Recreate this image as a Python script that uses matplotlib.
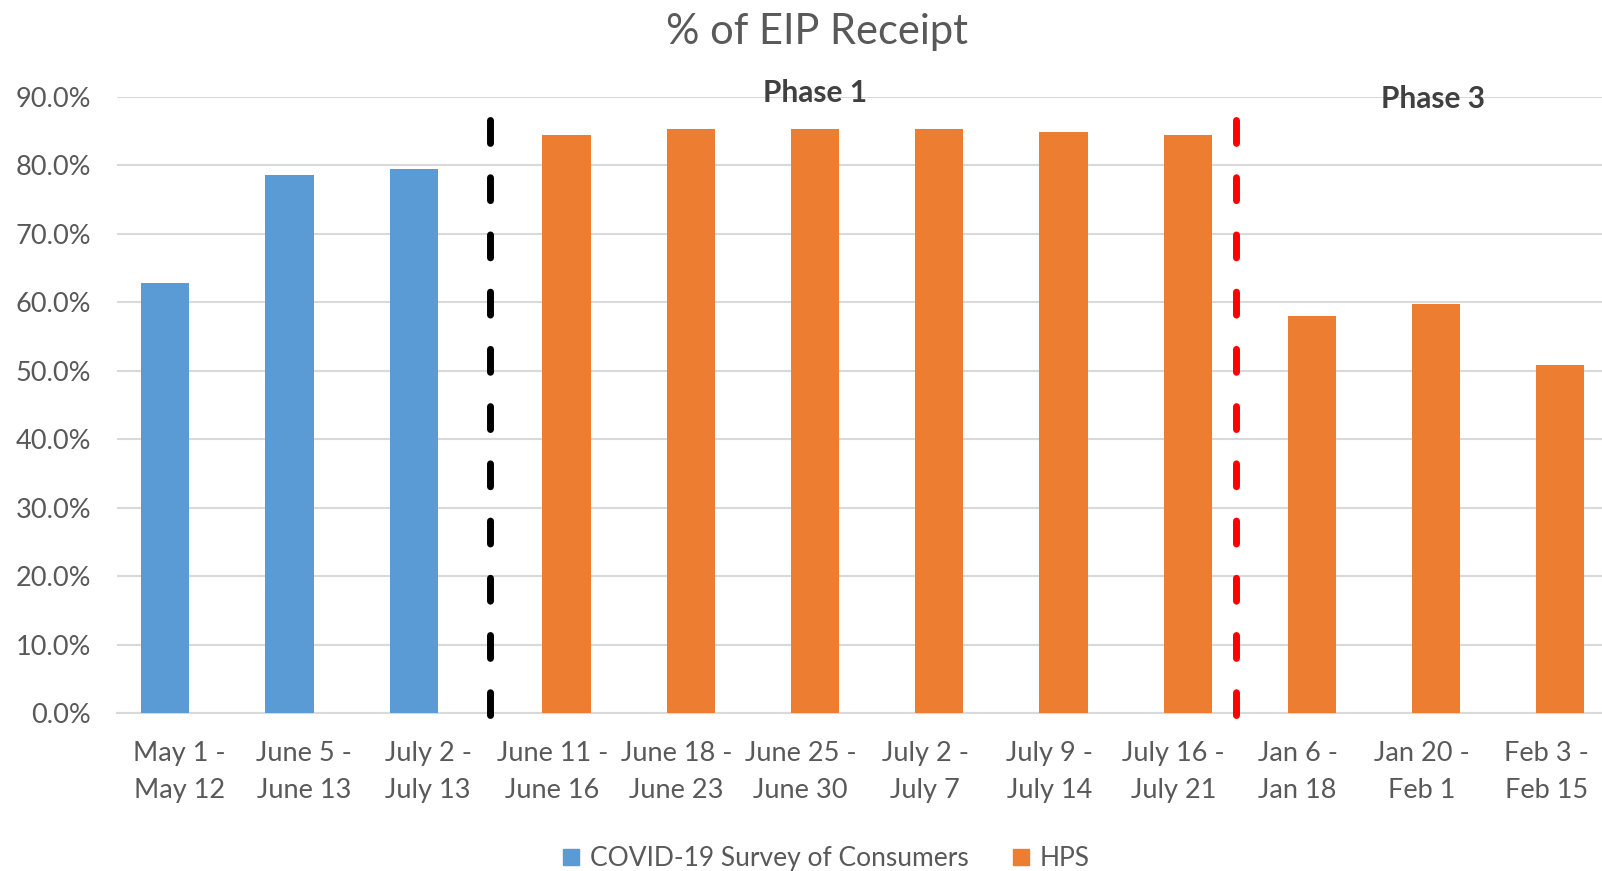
import numpy as np
import matplotlib
matplotlib.use("Agg")
import matplotlib.pyplot as plt
from matplotlib.patches import Patch
from matplotlib.ticker import FuncFormatter

plt.rcParams["font.family"] = ["Lato", "DejaVu Sans"]
plt.rcParams["lines.scale_dashes"] = False

# ── Data ──────────────────────────────────────────────────────────────────────
periods = ["May 1 -\nMay 12", "June 5 -\nJune 13", "July 2 -\nJuly 13",
           "June 11 -\nJune 16", "June 18 -\nJune 23", "June 25 -\nJune 30",
           "July 2 -\nJuly 7", "July 9 -\nJuly 14", "July 16 -\nJuly 21",
           "Jan 6 -\nJan 18", "Jan 20 -\nFeb 1", "Feb 3 -\nFeb 15"]
covid_survey = [62.8, 78.6, 79.5, None, None, None, None, None, None, None, None, None]
hps = [None, None, None, 84.5, 85.4, 85.4, 85.4, 84.9, 84.5, 58.0, 59.8, 50.9]
series_names = ["COVID-19 Survey of Consumers", "HPS"]
phase_labels = ["Phase 1", "Phase 3"]

BLUE = "#5B9BD5"
ORANGE = "#ED7D31"
GRAY = "#595959"
GRID = "#D9D9D9"

fig = plt.figure(figsize=(16.02, 8.71), dpi=100)
ax = fig.add_axes([0.0733, 0.1814, 0.9306, 0.7072])

x = np.arange(len(periods))
w = 0.387
off = 0.115
for xi, v in zip(x, covid_survey):
    if v is not None:
        ax.bar(xi - off, v, width=w, color=BLUE, zorder=3)
for xi, v in zip(x, hps):
    if v is not None:
        ax.bar(xi + off, v, width=w, color=ORANGE, zorder=3)

# phase separators
for xv, col in [(2.5, "black"), (8.5, "red")]:
    ax.plot([xv, xv], [86.7, -0.3], color=col, lw=5, solid_capstyle="round",
            dash_capstyle="round", dashes=(16.5, 24.7), zorder=4, clip_on=False)

ax.text(5.115, 90.6, phase_labels[0], ha="center", va="center", fontsize=21.5,
        fontweight="bold", color="#404040", zorder=5)
ax.text(10.09, 89.7, phase_labels[1], ha="center", va="center", fontsize=21.5,
        fontweight="bold", color="#404040", zorder=5)

ax.set_xlim(-0.5, 11.5)
ax.set_ylim(0, 90)
ax.set_yticks(np.arange(0, 91, 10))
ax.yaxis.set_major_formatter(FuncFormatter(lambda v, p: f"{v:.1f}%"))
ax.set_xticks(x)
ax.set_xticklabels(periods, linespacing=1.62)
ax.tick_params(axis="both", length=0, labelsize=19.5, labelcolor=GRAY)
ax.tick_params(axis="x", pad=20)
ax.tick_params(axis="y", pad=19)
ax.grid(axis="y", color=GRID, lw=1.5, zorder=0)
for s in ["top", "right", "left"]:
    ax.spines[s].set_visible(False)
ax.spines["bottom"].set_color(GRID)
ax.spines["bottom"].set_linewidth(1.5)

fig.text(0.51, 0.963, "% of EIP Receipt", ha="center", va="center",
         fontsize=30, color=GRAY)

handles = [Patch(color=BLUE), Patch(color=ORANGE)]
fig.legend(handles, series_names, loc="center", bbox_to_anchor=(0.516, 0.014),
           ncol=2, frameon=False, fontsize=19, labelcolor=GRAY,
           handlelength=0.6, handleheight=0.6, handletextpad=0.4,
           columnspacing=1.7)

fig.savefig("out.png", dpi=100)
